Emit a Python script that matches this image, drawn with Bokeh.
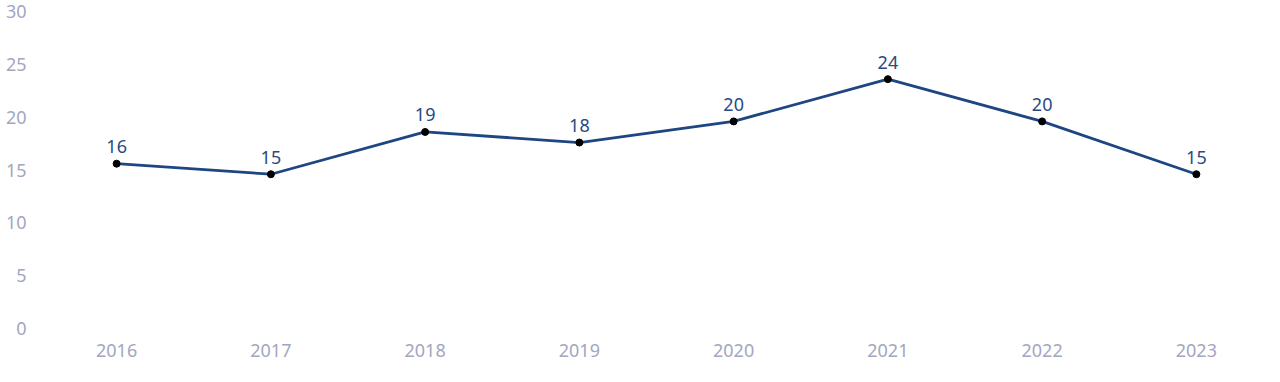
from bokeh.plotting import figure
from bokeh.models import Range1d, FixedTicker, ColumnDataSource
from bokeh.embed import file_html
from bokeh.resources import INLINE
from bokeh.core.properties import value

years = [2016, 2017, 2018, 2019, 2020, 2021, 2022, 2023]
values = [15.6, 14.6, 18.6, 17.6, 19.6, 23.6, 19.6, 14.6]
labels = ["16", "15", "19", "18", "20", "24", "20", "15"]
y_ticks = [0, 5, 10, 15, 20, 25, 30]

FONT = "Noto Sans"
TICK_COLOR = "#a3a6c0"
LINE_COLOR = "#1d4682"
LABEL_COLOR = "#2a4a80"

src = ColumnDataSource(dict(x=years, y=values, t=labels))

p = figure(width=1280, height=382, output_backend="svg", toolbar_location=None,
           x_range=Range1d(2015.5, 2023.5), y_range=Range1d(0, 30),
           min_border_left=39, min_border_right=7, min_border_top=11, min_border_bottom=54)
p.outline_line_color = None
p.xgrid.visible = False
p.ygrid.visible = False

for ax in (p.xaxis, p.yaxis):
    ax.axis_line_color = None
    ax.major_tick_line_color = None
    ax.minor_tick_line_color = None
    ax.major_label_text_color = TICK_COLOR
    ax.major_label_text_font = FONT
    ax.major_label_text_font_size = "18px"

p.xaxis.ticker = FixedTicker(ticks=years)
p.xaxis.major_label_standoff = 9
p.yaxis.ticker = FixedTicker(ticks=y_ticks)
p.yaxis.major_label_standoff = 7

p.line("x", "y", source=src, line_color=LINE_COLOR, line_width=2.8)
p.scatter("x", "y", source=src, size=7, fill_color="black", line_color="black")
p.text("x", "y", text="t", source=src, text_align="center", text_baseline="middle",
       y_offset=-17, text_color=LABEL_COLOR, text_font=value(FONT), text_font_size="18px")

open("out.html", "w").write(file_html(p, INLINE))
